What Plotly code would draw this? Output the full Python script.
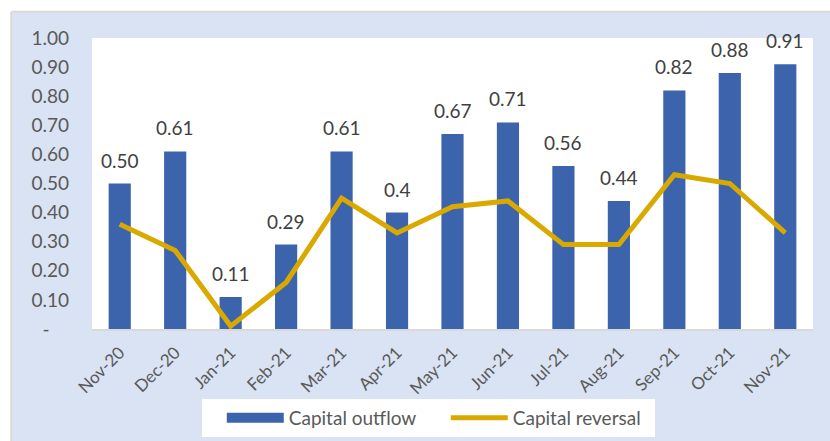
import plotly.graph_objects as go

months = ["Nov-20", "Dec-20", "Jan-21", "Feb-21", "Mar-21", "Apr-21", "May-21",
          "Jun-21", "Jul-21", "Aug-21", "Sep-21", "Oct-21", "Nov-21"]
outflow = [0.50, 0.61, 0.11, 0.29, 0.61, 0.40, 0.67, 0.71, 0.56, 0.44, 0.82, 0.88, 0.91]
outflow_labels = ["0.50", "0.61", "0.11", "0.29", "0.61", "0.4", "0.67",
                  "0.71", "0.56", "0.44", "0.82", "0.88", "0.91"]
reversal = [0.36, 0.27, 0.01, 0.16, 0.45, 0.33, 0.42, 0.44, 0.29, 0.29, 0.53, 0.50, 0.33]
ytick_vals = [0, 0.1, 0.2, 0.3, 0.4, 0.5, 0.6, 0.7, 0.8, 0.9, 1.0]
ytick_text = ["-    ", "0.10", "0.20", "0.30", "0.40", "0.50", "0.60", "0.70", "0.80", "0.90", "1.00"]

font = "Lato"
grey = "#595959"
blue = "#3C64AD"
gold = "#DAA900"

fig = go.Figure()
fig.add_trace(go.Bar(x=months, y=outflow, name="Capital outflow", showlegend=False,
                     marker=dict(color=blue, line=dict(width=0))))
# legend-only entry so the swatch is a wide block like the original
fig.add_trace(go.Scatter(x=[None], y=[None], name="Capital outflow", mode="lines",
                         line=dict(color=blue, width=13)))
fig.add_trace(go.Scatter(x=months, y=reversal, name="Capital reversal", mode="lines",
                         line=dict(color=gold, width=5), cliponaxis=False))

for m, v, t in zip(months, outflow, outflow_labels):
    fig.add_annotation(x=m, y=v, text=t, showarrow=False, yanchor="bottom", yshift=10,
                       font=dict(family=font, size=19, color="#404040"))

# chart area background and top/left white strips
fig.add_shape(type="rect", xref="paper", yref="paper", x0=-0.2, x1=1.1, y0=1.09, y1=1.2,
              fillcolor="white", line=dict(width=0), layer="below")
fig.add_shape(type="rect", xref="paper", yref="paper", x0=-0.2, x1=-0.112, y0=-0.5, y1=1.2,
              fillcolor="white", line=dict(width=0), layer="below")
fig.add_shape(type="line", xref="paper", yref="paper", x0=-0.112, x1=1.1, y0=1.09, y1=1.09,
              line=dict(color="#D9D9D9", width=2), layer="below")
fig.add_shape(type="line", xref="paper", yref="paper", x0=-0.112, x1=-0.112, y0=-0.5, y1=1.09,
              line=dict(color="#D9D9D9", width=2), layer="below")
# white legend box
fig.add_shape(type="rect", xref="paper", yref="paper", x0=0.1526, x1=0.7809, y0=-0.371, y1=-0.2405,
              fillcolor="white", line=dict(width=0), layer="below")

fig.update_layout(
    width=830, height=441,
    margin=dict(l=92, r=17, t=38, b=112, autoexpand=False),
    paper_bgcolor="#DAE3F3",
    plot_bgcolor="white",
    bargap=0.6,
    showlegend=True,
    legend=dict(orientation="h", x=0.180, xanchor="left", y=-0.24, yanchor="top",
                bgcolor="rgba(0,0,0,0)", font=dict(family=font, size=19, color=grey),
                itemwidth=57, entrywidth=152, traceorder="normal"),
    font=dict(family=font, color=grey),
)
fig.update_xaxes(tickangle=-45, tickfont=dict(family=font, size=17, color=grey),
                 showline=True, linecolor="#D9D9D9", linewidth=2, ticks="", showgrid=False,
                 ticklabelstandoff=5)
fig.update_yaxes(range=[0, 1], tickvals=ytick_vals, ticktext=ytick_text, showgrid=False,
                 zeroline=False, tickfont=dict(family=font, size=19, color=grey),
                 ticklabelstandoff=22)

fig.write_html("out.html", post_script="document.body.style.margin='0';",
               config={"displayModeBar": False})
